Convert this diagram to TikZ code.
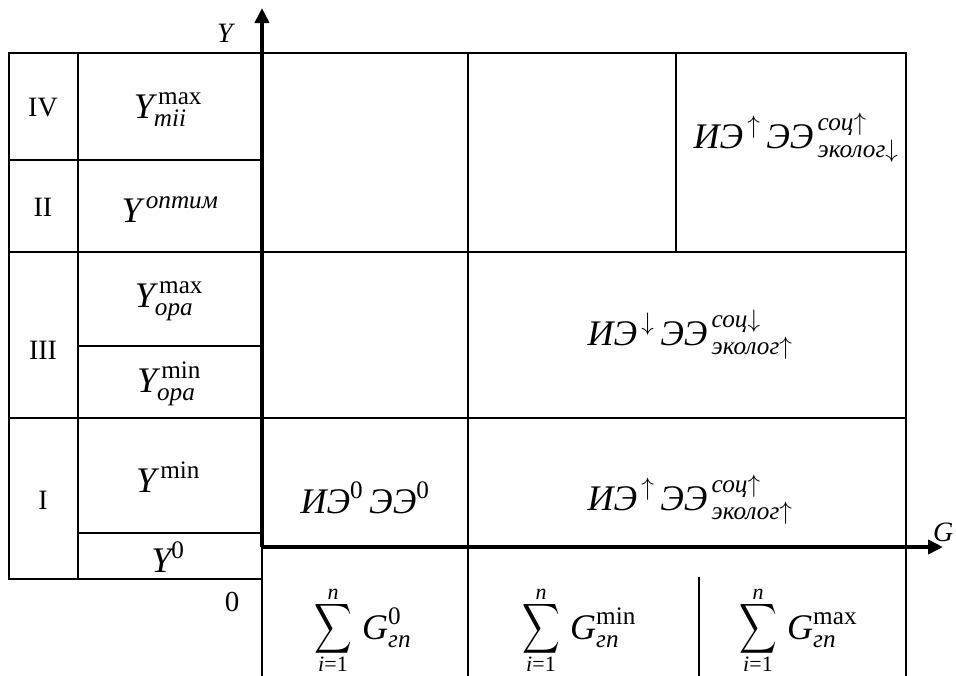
\RequirePackage{fix-cm}
\documentclass[tikz,border=0pt]{standalone}
\usepackage{amsmath}
\usepackage{graphicx}
\usepackage{fontspec}
\setmainfont{Liberation Serif}
\usetikzlibrary{arrows.meta}
\newcommand{\ci}[1]{\text{\itshape #1}}
\newcommand{\bigsigma}{\scalebox{1.05}[1.4]{$\displaystyle\sum$}}
\tikzset{
  tl/.style={line width=1.4pt, line cap=rect},
  axisline/.style={line width=4pt, -{Triangle[length=15pt,width=14pt]}},
  roman/.style={font=\fontsize{28}{30}\selectfont, inner sep=0pt},
  mlabel/.style={font=\fontsize{36}{40}\selectfont, inner sep=0pt, anchor=base},
  sigmastyle/.style={font=\fontsize{36}{40}\selectfont, inner sep=0pt},
  limstyle/.style={font=\fontsize{22}{24}\selectfont, inner sep=0pt},
  gterm/.style={font=\fontsize{36}{40}\selectfont, inner sep=0pt, anchor=base west},
  axlabel/.style={font=\fontsize{28}{30}\selectfont\itshape, inner sep=0pt}
}
\begin{document}
\begin{tikzpicture}[x=1pt,y=-1pt]
\useasboundingbox (0,0) rectangle (956,675);
% table lines
\draw[tl] (9,53) -- (906,53);
\draw[tl] (9,53) -- (9,579);
\draw[tl] (78,53) -- (78,579);
\draw[tl] (9,160) -- (262,160);
\draw[tl] (9,252) -- (906,252);
\draw[tl] (78,346) -- (262,346);
\draw[tl] (9,418) -- (906,418);
\draw[tl] (78,533) -- (262,533);
\draw[tl] (9,579) -- (262,579);
\draw[tl] (262,547) -- (262,675);
\draw[tl] (468,53) -- (468,675);
\draw[tl] (676,53) -- (676,252);
\draw[tl] (906,53) -- (906,675);
\draw[tl] (699,578) -- (699,675);
% axes
\coordinate (O) at (262,547);
\coordinate (Ytip) at (262,8);
\coordinate (Gtip) at (943,547);
\draw[axisline] (O) -- (Ytip);
\draw[axisline] (O) -- (Gtip);
\node[axlabel] (ylab) at (225,33) {Y};
\node[axlabel, anchor=west] (glab) at (933,532) {G};
\node[font=\fontsize{29}{30}\selectfont, inner sep=0pt] (zero) at (232,602) {0};
% row labels
\node[roman] (r4) at (43,108) {IV};
\node[roman] (r2) at (43,207) {II};
\node[roman] (r3) at (43,350) {III};
\node[roman] (r1) at (43,500) {I};
% Y labels
\node[mlabel] (y1) at (168,118) {$\ci{Y}^{\,\text{max}}_{\ci{mii}}$};
\node[mlabel] (y2) at (170,222) {$\ci{Y}^{\,\ci{оптим}}$};
\node[mlabel] (y3) at (169,307) {$\ci{Y}^{\,\text{max}}_{\ci{opa}}$};
\node[mlabel] (y4) at (169,392) {$\ci{Y}^{\,\text{min}}_{\ci{opa}}$};
\node[mlabel] (y5) at (168,492) {$\ci{Y}^{\,\text{min}}$};
\node[mlabel] (y6) at (168,572) {$\ci{Y}^{\text{0}}$};
% cell texts
\node[mlabel] (c1) at (796,148) {$\ci{ИЭ}^{\,\uparrow}\,\ci{ЭЭ}^{\,\ci{соц}\uparrow}_{\,\ci{эколог}\downarrow}$};
\node[mlabel] (c2) at (690,345) {$\ci{ИЭ}^{\,\downarrow}\,\ci{ЭЭ}^{\,\ci{соц}\downarrow}_{\,\ci{эколог}\uparrow}$};
\node[mlabel] (c3) at (690,510) {$\ci{ИЭ}^{\,\uparrow}\,\ci{ЭЭ}^{\,\ci{соц}\uparrow}_{\,\ci{эколог}\uparrow}$};
\node[mlabel] (c4) at (365,513) {$\ci{ИЭ}^{\text{0}}\,\ci{ЭЭ}^{\text{0}}$};
% sums
\node[sigmastyle] (sg1) at (333,629) {\bigsigma};
\node[limstyle] (n1) at (333,594) {\itshape n};
\node[limstyle] (i1) at (333,664) {\itshape i\/\upshape =1};
\node[gterm] (g1) at (362,639) {$\ci{G}^{\text{0}}_{\ci{гп}}$};
\node[sigmastyle] (sg2) at (541,629) {\bigsigma};
\node[limstyle] (n2) at (541,594) {\itshape n};
\node[limstyle] (i2) at (541,664) {\itshape i\/\upshape =1};
\node[gterm] (g2) at (570,639) {$\ci{G}^{\text{min}}_{\ci{гп}}$};
\node[sigmastyle] (sg3) at (758,629) {\bigsigma};
\node[limstyle] (n3) at (758,594) {\itshape n};
\node[limstyle] (i3) at (758,664) {\itshape i\/\upshape =1};
\node[gterm] (g3) at (787,639) {$\ci{G}^{\text{max}}_{\ci{гп}}$};
\end{tikzpicture}
\end{document}
